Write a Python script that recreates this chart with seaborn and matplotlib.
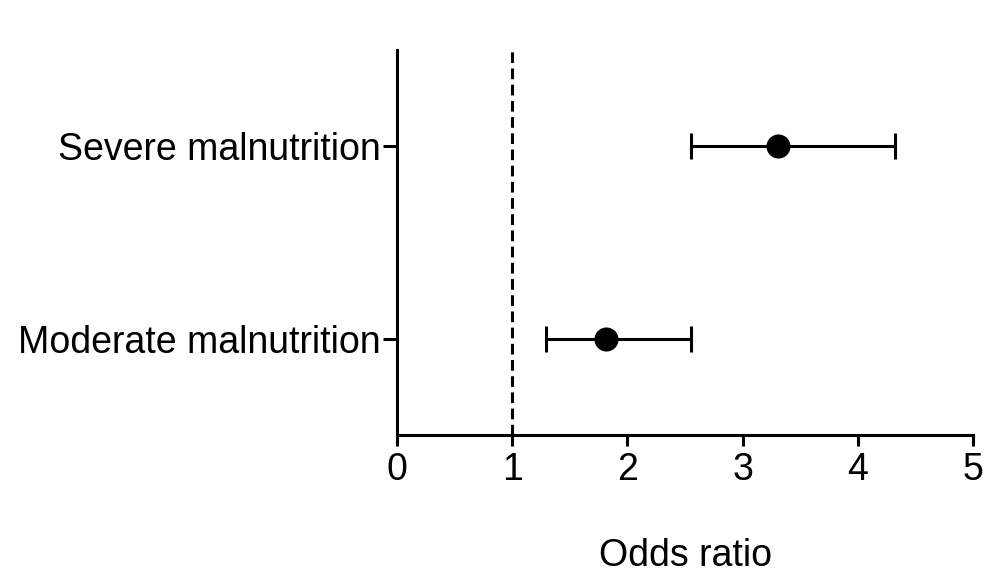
import matplotlib.pyplot as plt
import pandas as pd
import seaborn as sns

groups = ["Moderate malnutrition", "Severe malnutrition"]
odds_ratio = [1.81, 3.31]
ci_low = [1.29, 2.55]
ci_high = [2.55, 4.32]

df = pd.DataFrame({"group": groups, "or": odds_ratio, "lo": ci_low, "hi": ci_high})

sns.set_style("ticks")
plt.rcParams["font.family"] = ["Liberation Sans", "DejaVu Sans"]
plt.rcParams["text.color"] = "black"
plt.rcParams["xtick.labelcolor"] = "black"
plt.rcParams["ytick.labelcolor"] = "black"

fig = plt.figure(figsize=(9.85, 5.83), dpi=100)
ax = fig.add_axes([0.403, 0.254, 0.585, 0.66])

ax.errorbar(df["or"], df["group"],
            xerr=[df["or"] - df["lo"], df["hi"] - df["or"]],
            fmt="none", ecolor="black", elinewidth=2.2, capsize=9.5, capthick=2.2, zorder=2)
sns.scatterplot(data=df, x="or", y="group", ax=ax, color="black", s=300,
                edgecolor="black", linewidth=0, zorder=3, legend=False)

ax.axvline(1, color="black", linestyle=(0, (3.5, 1.8)), linewidth=2.2, zorder=1)

ax.set_xlim(0, 5)
ax.set_ylim(-0.5, 1.5)
ax.set_xticks([0, 1, 2, 3, 4, 5])
ax.set_xlabel("Odds ratio", fontsize=27, labelpad=36, color="black")
ax.set_ylabel("")
ax.tick_params(axis="both", labelsize=27, width=2.2, length=8, color="black",
               labelcolor="black")
ax.tick_params(axis="x", pad=4)
ax.tick_params(axis="y", length=10, pad=2)

sns.despine(ax=ax)
for s in ["left", "bottom"]:
    ax.spines[s].set_linewidth(2.2)
    ax.spines[s].set_color("black")

plt.savefig("out.png", dpi=100)
